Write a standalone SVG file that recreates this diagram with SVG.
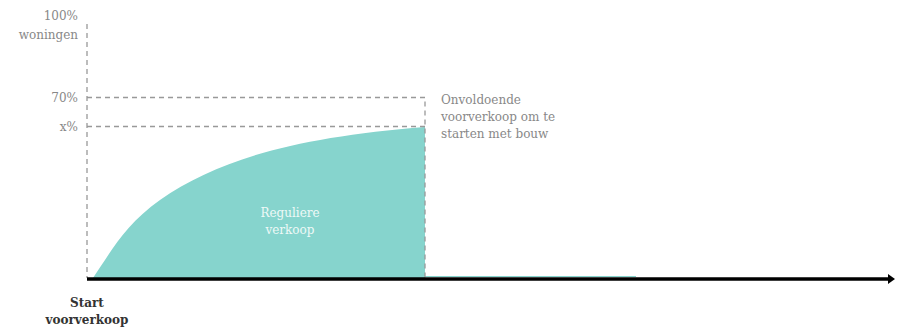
<svg xmlns="http://www.w3.org/2000/svg" width="897" height="329" viewBox="0 0 897 329">
<style>
.lbl{font-family:"DejaVu Serif","Liberation Serif",serif;font-size:12px;fill:#888}
.dash{stroke:#999;stroke-width:1.3;stroke-dasharray:5,4;fill:none}
.w{font-family:"DejaVu Serif","Liberation Serif",serif;font-size:12px;fill:#eef9f7}
.b{font-family:"DejaVu Serif","Liberation Serif",serif;font-size:12px;fill:#333;font-weight:bold}
</style>
<defs>
<marker id="arr" markerWidth="8" markerHeight="10" refX="1" refY="5" orient="auto" markerUnits="userSpaceOnUse">
<path d="M0,0 L7,5 L0,10 Z" fill="#000"/>
</marker>
</defs>
<g id="area">
<path d="M93,278 C112,250 125,225 160,200 C220,158 300,137 425,127 L425,278 Z" fill="#86d4cd"/>
<line x1="425" y1="276.5" x2="636" y2="276.5" stroke="#86d4cd" stroke-width="1"/>
<text class="w" x="290" y="217" text-anchor="middle">Reguliere</text>
<text class="w" x="290" y="234" text-anchor="middle">verkoop</text>
</g>
<g id="connectors">
<path class="dash" d="M87,24 V278"/>
<path class="dash" d="M87,97.5 H425 V278"/>
<path class="dash" d="M87,126.5 H425"/>
<line x1="87" y1="279" x2="889" y2="279" stroke="#000" stroke-width="3.5" marker-end="url(#arr)"/>
</g>
<g id="ylabels">
<text class="lbl" x="78" y="20" text-anchor="end">100%</text>
<text class="lbl" x="78" y="39" text-anchor="end">woningen</text>
<text class="lbl" x="78" y="102" text-anchor="end">70%</text>
<text class="lbl" x="78" y="131" text-anchor="end">x%</text>
</g>
<g id="note">
<text class="lbl" x="441" y="104">Onvoldoende</text>
<text class="lbl" x="441" y="121">voorverkoop om te</text>
<text class="lbl" x="441" y="138">starten met bouw</text>
</g>
<g id="start">
<text class="b" x="87" y="307" text-anchor="middle">Start</text>
<text class="b" x="87" y="324" text-anchor="middle">voorverkoop</text>
</g>
</svg>
